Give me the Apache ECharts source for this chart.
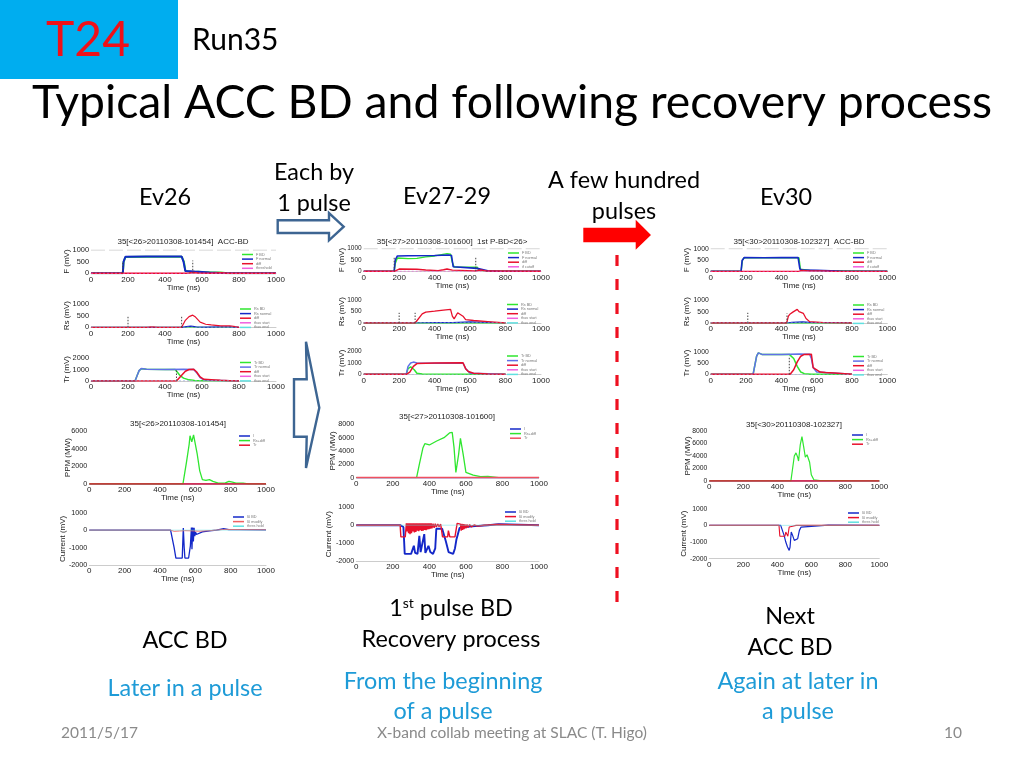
<!DOCTYPE html>
<html>
<head>
<meta charset="utf-8">
<style>html,body{margin:0;padding:0;background:#fff}
#c,#s{position:absolute;left:0;top:0;width:1024px;height:768px}
#c{filter:blur(0.45px)}</style>
<script src="https://cdn.jsdelivr.net/npm/echarts@6/dist/echarts.min.js"></script>
</head>
<body>
<div id="c"></div>
<div id="s"></div>
<script>
// ---------- values: [time ns, value] ----------
const flat1000 = [[0,0],[1000,0]];
const flat800 = [[0,0],[800,0]];
const limit1000 = [[0,1000],[1000,1000]];

// Ev26
const ev26F_bd = [[0,0],[172,0],[176,480],[186,700],[300,712],[490,712],[502,500],[510,110],[540,60],[580,70],[620,50],[660,30],[700,35],[740,0],[1000,0]];
const ev26F_normal = [[0,0],[172,0],[176,500],[186,710],[300,722],[400,718],[490,722],[500,500],[510,95],[560,75],[600,60],[640,30],[700,10],[760,0],[1000,0]];
const ev26F_diff = [[0,0],[172,0],[175,50],[182,0],[500,0],[530,10],[550,30],[580,15],[650,5],[700,20],[740,0],[1000,0]];
const ev26F_m1 = [[172,0],[172,500]];
const ev26F_m2 = [[550,0],[550,550]];
const ev26Rs_normal = [[0,0],[490,0],[515,30],[540,50],[570,15],[620,10],[700,20],[760,15],[800,0]];
const ev26Rs_diff = [[0,0],[300,0],[330,15],[360,0],[490,0],[495,60],[510,300],[530,460],[550,520],[565,440],[590,220],[620,130],[650,100],[700,60],[750,60],[780,30],[800,0]];
const ev26Rs_m1 = [[200,0],[200,450]];
const ev26Rs_m2 = [[490,0],[490,450]];
const ev26Tr_bd = [[0,0],[238,0],[250,500],[260,900],[272,1070],[300,1020],[400,1000],[455,1000],[465,850],[480,500],[500,250],[530,100],[560,50],[600,20],[700,30],[800,0]];
const ev26Tr_normal = [[0,0],[238,0],[250,500],[260,900],[272,1080],[300,1020],[400,1000],[500,1030],[555,1010],[570,750],[590,300],[610,100],[650,60],[800,0]];
const ev26Tr_diff = [[0,0],[462,0],[470,100],[490,500],[510,850],[530,1000],[555,1020],[570,800],[590,350],[610,150],[650,110],[700,60],[750,30],[800,0]];
const ev26Tr_m1 = [[462,0],[462,900]];
const ev26P_i = [[0,0],[1000,0]];
const ev26P_rs = [[0,10],[530,10],[537,150],[550,2500],[565,4500],[570,5500],[580,4800],[590,5600],[600,5800],[610,3500],[625,1500],[640,500],[660,400],[680,500],[700,300],[730,100],[770,120],[790,300],[810,200],[830,100],[870,110],[900,10],[1000,10]];
const ev26P_tr = [[0,0],[1000,0]];
const ev26C_bd = [[0,0],[460,0],[470,-100],[480,-1000],[490,-1600],[526,-1600],[532,120],[537,-1000],[541,-1600],[562,-1600],[572,-900],[578,150],[581,-1100],[585,150],[589,-650],[593,130],[597,-350],[601,-100],[606,-250],[615,-150],[640,-100],[680,-40],[720,0],[760,80],[790,30],[850,30],[1000,20]];
const ev26C_mod = [[0,0],[460,0],[480,-70],[510,-50],[540,-30],[580,-40],[620,-60],[680,-30],[760,40],[1000,20]];

// Ev27
const ev27F_bd = [[0,0],[172,0],[178,350],[190,590],[250,560],[300,570],[350,640],[400,680],[470,780],[490,760],[500,400],[510,190],[600,180],[640,185],[650,50],[700,10],[1000,0]];
const ev27F_normal = [[0,0],[172,0],[178,500],[190,680],[250,690],[400,700],[480,720],[495,700],[505,200],[515,150],[640,130],[650,60],[700,20],[760,0],[1000,0]];
const ev27F_diff = [[0,0],[172,0],[180,80],[200,100],[300,90],[350,60],[420,30],[450,70],[470,100],[500,50],[510,30],[630,20],[660,60],[700,10],[1000,0]];
const ev27F_m1 = [[172,0],[172,600]];
const ev27F_m2 = [[632,0],[632,620]];
const ev27Rs_normal = [[0,0],[290,0],[300,40],[400,20],[500,20],[600,50],[700,30],[800,0]];
const ev27Rs_diff = [[0,0],[290,0],[300,100],[330,400],[350,480],[400,520],[450,570],[490,600],[500,300],[510,180],[530,450],[540,520],[560,300],[575,150],[620,110],[700,60],[800,0]];
const ev27Rs_m1 = [[200,0],[200,450]];
const ev27Rs_m2 = [[290,0],[290,450]];
const ev27Tr_bd = [[0,0],[240,0],[250,500],[265,650],[285,400],[300,100],[330,20],[800,0]];
const ev27Tr_normal = [[0,0],[240,0],[250,700],[265,1000],[280,1080],[300,1000],[400,980],[560,1000],[575,500],[600,100],[800,0]];
const ev27Tr_diff = [[0,0],[240,0],[260,200],[280,700],[300,950],[400,1000],[560,1020],[575,500],[590,250],[620,100],[700,30],[800,0]];
const ev27P_rs = [[0,10],[330,10],[345,2000],[365,4500],[375,5100],[400,4900],[440,5500],[480,6000],[510,6700],[525,6800],[535,4500],[545,800],[560,3500],[570,5900],[585,3500],[600,800],[640,400],[680,150],[720,200],[780,10],[1000,10]];
const ev27C_bd = [[0,0],[240,0],[258,-100],[265,-1600],[300,-1600],[308,-1500],[315,-1150],[322,-1550],[335,-1600],[345,-600],[352,-1500],[362,-1600],[372,-500],[378,-1550],[385,-1600],[395,-1150],[405,-1500],[420,-1600],[432,-1300],[438,-200],[470,-200],[478,-300],[490,-900],[505,-1500],[530,-1600],[540,-1300],[548,-800],[556,-500],[565,-150],[590,-100],[650,-50],[720,0],[780,60],[1000,0]];
const ev27C_mod = [[0,0],[240,0],[244,-650],[268,-650],[274,100],[278,-350],[282,110],[286,-450],[290,100],[294,-500],[298,110],[302,-450],[306,100],[310,-350],[314,110],[318,-400],[322,100],[326,-380],[330,110],[334,-300],[338,100],[342,-340],[346,110],[350,-280],[354,100],[358,-320],[362,110],[366,-300],[370,100],[374,-260],[378,110],[382,-280],[386,100],[390,-240],[394,110],[398,-220],[402,100],[406,-200],[410,100],[414,-180],[420,90],[426,-150],[432,80],[438,-100],[446,70],[452,-70],[462,50],[472,-650],[500,-650],[504,-300],[512,-650],[540,-650],[552,100],[562,130],[570,60],[574,-300],[578,70],[582,-260],[586,60],[590,-220],[594,50],[600,-180],[606,40],[612,-130],[620,30],[630,-90],[645,10],[665,-50],[700,0],[770,40],[1000,0]];

// Ev30
const ev30F_normal = [[0,0],[172,0],[178,480],[190,610],[300,600],[400,605],[495,605],[505,100],[520,50],[600,40],[680,20],[750,0],[1000,0]];
const ev30F_bd = [[0,0],[172,0],[180,500],[190,600],[500,600],[508,90],[560,40],[1000,0]];
const ev30F_diff = [[0,0],[168,0],[176,70],[182,0],[500,0],[512,40],[560,20],[640,20],[700,0],[1000,0]];
const ev30Rs_normal = [[0,0],[430,0],[460,25],[520,50],[560,30],[620,20],[700,15],[800,0]];
const ev30Rs_diff = [[0,0],[430,0],[440,300],[450,400],[465,480],[475,400],[490,600],[500,500],[510,450],[525,420],[540,200],[560,60],[640,20],[800,0]];
const ev30Rs_m1 = [[210,0],[210,450]];
const ev30Rs_m2 = [[432,0],[432,420]];
const ev30Tr_bd = [[0,0],[240,0],[250,400],[260,800],[270,950],[290,880],[400,880],[445,880],[455,870],[470,700],[490,350],[510,100],[530,30],[570,0],[800,0]];
const ev30Tr_normal = [[0,0],[240,0],[250,400],[260,800],[270,950],[290,880],[400,880],[500,900],[560,890],[570,700],[580,300],[600,100],[800,0]];
const ev30Tr_diff = [[0,0],[450,0],[470,200],[490,550],[510,800],[530,880],[570,890],[580,300],[600,200],[620,100],[650,80],[700,60],[800,0]];
const ev30Tr_m1 = [[445,0],[445,800]];
const ev30P_rs = [[0,10],[480,10],[490,2000],[500,4000],[510,4500],[520,3800],[525,3200],[535,5800],[545,7100],[555,5500],[565,3800],[575,4200],[590,3000],[600,1000],[615,200],[650,80],[800,60],[820,10],[1000,10]];
const ev30C_bd = [[0,0],[420,0],[430,-50],[440,-600],[450,-1000],[460,-1300],[470,-1500],[475,-1300],[482,-400],[490,-600],[500,-900],[510,-1000],[520,-800],[530,-300],[540,-100],[550,0],[700,20],[1000,0]];
const ev30C_mod = [[0,0],[410,0],[415,-650],[445,-650],[450,-400],[462,-650],[470,-100],[490,-50],[510,0],[1000,0]];

// tick settings
const xTicks = {min:0, max:1000, interval:200};

// ---------- colours ----------
const GREEN='#2fe62f', BLUE='#1428c8', RED='#e8102c', PINK='#f060e0', CYAN='#60e0e0', MARK='#444444', LBLUE='#6070e8';

const S=(name,data,color,width,dash)=>({name,data,color,width:width||1.5,dash});
const M=(data)=>({name:'',data,color:MARK,width:1,dash:[1.5,1.5],noLegend:true});
const LIM=()=>({name:'',data:limit1000,color:'#cccccc',width:1,dash:[14,4],noLegend:true});

const panels=[
 {x0:91,x1:276,yT:250,yB:273.3,min:0,max:1000,iv:500,gap:20,yfs:7.4,yName:'F (mV)',title:'35[<26>20110308-101454]  ACC-BD',tx:183,ty:242,lx:242,ly:252.5,
  s:[LIM(),S('F BD',ev26F_bd,GREEN,2),S('F normal',ev26F_normal,BLUE,2),S('diff',ev26F_diff,RED,1.5),S('threshold',flat1000,PINK,.8,[2,2]),M(ev26F_m1),M(ev26F_m2)]},
 {x0:91,x1:276,yT:304,yB:327.3,min:0,max:1000,iv:500,gap:20,yfs:7.4,yName:'Rs (mV)',lx:240,ly:307,
  s:[S('Rs BD',flat800,GREEN,1),S('Rs normal',ev26Rs_normal,BLUE,1.2),S('diff',ev26Rs_diff,RED,1.2),S('thav start',flat800,PINK,.6,[2,2]),S('thav end',flat800,CYAN,.6,[2,2]),M(ev26Rs_m1),M(ev26Rs_m2)]},
 {x0:91,x1:276,yT:358,yB:381,min:0,max:2000,iv:1000,gap:20,yfs:7.4,yName:'Tr (mV)',lx:240,ly:360.5,
  s:[S('Tr BD',ev26Tr_bd,GREEN,1.5),S('Tr normal',ev26Tr_normal,LBLUE,1.5),S('diff',ev26Tr_diff,RED,1.5),S('thav start',flat800,PINK,.6,[2,2]),S('thav end',flat800,CYAN,.6,[2,2]),M(ev26Tr_m1)]},
 {x0:89.3,x1:266,yT:431.3,yB:484,min:0,max:6000,iv:2000,gap:18,yfs:7.2,yName:'PPM (MW)',title:'35[<26>20110308-101454]',tx:178,ty:424,lx:239,ly:434,
  s:[S('I',ev26P_i,BLUE,1),S('Rs+diff',ev26P_rs,GREEN,1.3),S('Tr',ev26P_tr,RED,1.6)]},
 {x0:89.3,x1:266,yT:512.7,yB:565,min:-2000,max:1000,iv:1000,gap:23,yfs:7.2,yName:'Current (mV)',lx:233,ly:515,
  s:[S('I0 BD',ev26C_bd,BLUE,1.3),S('I0 modify',ev26C_mod,'#f06060',.9),S('thres hold',flat1000,CYAN,.5)]},

 {x0:363.7,x1:541,yT:248.7,yB:271.3,min:0,max:1000,iv:500,gap:18,yfs:6.5,yName:'F (mV)',title:'35[<27>20110308-101600]  1st P-BD<26>',tx:452,ty:241.5,lx:508,ly:251,
  s:[LIM(),S('F BD',ev27F_bd,GREEN,1.4),S('F normal',ev27F_normal,BLUE,1.6),S('diff',ev27F_diff,RED,1.4),S('if cutoff',flat1000,PINK,.8,[2,2]),M(ev27F_m1),M(ev27F_m2)]},
 {x0:363.7,x1:541,yT:300.3,yB:323,min:0,max:1000,iv:500,gap:18,yfs:6.5,yName:'Rs (mV)',lx:507,ly:302.5,
  s:[S('Rs BD',flat800,GREEN,1.4),S('Rs normal',ev27Rs_normal,BLUE,1.2),S('diff',ev27Rs_diff,RED,1.3),S('thav start',flat800,PINK,.6,[2,2]),S('thav end',flat800,CYAN,.6,[2,2]),M(ev27Rs_m1),M(ev27Rs_m2)]},
 {x0:363.7,x1:541,yT:351.7,yB:374.3,min:0,max:2000,iv:1000,gap:18,yfs:6.5,yName:'Tr (mV)',lx:507,ly:354,
  s:[S('Tr BD',ev27Tr_bd,GREEN,1.5),S('Tr normal',ev27Tr_normal,LBLUE,1.5),S('diff',ev27Tr_diff,RED,1.5),S('thav start',flat800,PINK,.6,[2,2]),S('thav end',flat800,CYAN,.6,[2,2])]},
 {x0:356.3,x1:539,yT:424.3,yB:477.7,min:0,max:8000,iv:2000,gap:19.5,yfs:7.2,yName:'PPM (MW)',title:'35[<27>20110308-101600]',tx:447,ty:416.5,lx:510,ly:427,
  s:[S('I',ev26P_i,BLUE,1.5),S('Rs+diff',ev27P_rs,GREEN,1.3),S('Tr',ev26P_tr,'#f05060',1.8)]},
 {x0:356.3,x1:539,yT:507.3,yB:561,min:-2000,max:1000,iv:1000,gap:24,yfs:7.2,yName:'Current (mV)',lx:505,ly:510,
  s:[S('I0 BD',ev27C_bd,BLUE,1.9),S('I0 modify',ev27C_mod,RED,1.4),S('thres hold',flat1000,CYAN,.5)]},

 {x0:710.7,x1:887.3,yT:248.7,yB:271.3,min:0,max:1000,iv:500,gap:19.5,yfs:6.8,yName:'F (mV)',title:'35[<30>20110308-102327]  ACC-BD',tx:799,ty:241.5,lx:853,ly:251,
  s:[LIM(),S('F BD',ev30F_bd,GREEN,1.4),S('F normal',ev30F_normal,BLUE,1.6),S('diff',ev30F_diff,RED,1.3),S('if cutoff',flat1000,PINK,.8,[2,2])]},
 {x0:710.7,x1:887.3,yT:300.3,yB:323,min:0,max:1000,iv:500,gap:19.5,yfs:6.8,yName:'Rs (mV)',lx:853,ly:303,
  s:[S('Rs BD',flat800,GREEN,1.4),S('Rs normal',ev30Rs_normal,BLUE,1.2),S('diff',ev30Rs_diff,RED,1.3),S('thav start',flat800,PINK,.6,[2,2]),S('thav end',flat800,CYAN,.6,[2,2]),M(ev30Rs_m1),M(ev30Rs_m2)]},
 {x0:710.7,x1:887.3,yT:351.7,yB:374.3,min:0,max:1000,iv:500,gap:19.5,yfs:6.8,yName:'Tr (mV)',lx:853,ly:354.5,
  s:[S('Tr BD',ev30Tr_bd,GREEN,1.5),S('Tr normal',ev30Tr_normal,LBLUE,1.5),S('diff',ev30Tr_diff,RED,1.5),S('thav start',flat800,PINK,.6,[2,2]),S('thav end',flat800,CYAN,.6,[2,2]),M(ev30Tr_m1)]},
 {x0:709.3,x1:879.3,yT:431,yB:481,min:0,max:8000,iv:2000,gap:18,yfs:6.8,yName:'PPM (MW)',title:'35[<30>20110308-102327]',tx:794,ty:424.5,lx:852,ly:433,
  s:[S('I',ev26P_i,BLUE,1.2),S('Rs+diff',ev30P_rs,GREEN,1.2),S('Tr',ev26P_tr,RED,1.5)]},
 {x0:709.3,x1:879.3,yT:508.7,yB:558.7,min:-2000,max:1000,iv:1000,gap:22,yfs:6.8,yName:'Current (mV)',lx:848,ly:511,
  s:[S('I0 BD',ev30C_bd,BLUE,1.2),S('I0 modify',ev30C_mod,RED,1.1),S('thres hold',flat1000,CYAN,.5)]}
];

const AX='#222222', FF='"Liberation Sans",Arial,sans-serif', FS=8;
const plain=v=>String(v);
const option={animation:false,backgroundColor:'#ffffff',grid:[],xAxis:[],yAxis:[],series:[],legend:[],title:[]};
panels.forEach((p,i)=>{
  option.grid.push({left:p.x0,top:p.yT,width:p.x1-p.x0,height:p.yB-p.yT,containLabel:false});
  option.xAxis.push({type:'value',gridIndex:i,min:xTicks.min,max:xTicks.max,interval:xTicks.interval,
    name:'Time (ns)',nameLocation:'middle',nameGap:10,nameMoveOverlap:false,nameTextStyle:{fontSize:FS,color:AX,fontFamily:FF},
    axisLine:{show:true,onZero:false,lineStyle:{color:'#999',width:.5}},axisTick:{show:false},splitLine:{show:false},
    axisLabel:{fontSize:FS,margin:2,color:AX,fontFamily:FF,formatter:plain,hideOverlap:false,showMinLabel:true,showMaxLabel:true}});
  option.yAxis.push({type:'value',gridIndex:i,min:p.min,max:p.max,interval:p.iv,
    name:p.yName,nameLocation:'middle',nameRotate:90,nameGap:p.gap,nameMoveOverlap:false,nameTextStyle:{fontSize:FS,color:AX,fontFamily:FF},
    axisLine:{show:false},axisTick:{show:false},splitLine:{show:false},
    axisLabel:{fontSize:p.yfs,margin:2,color:AX,fontFamily:FF,formatter:plain,showMinLabel:true,showMaxLabel:true}});
  p.s.forEach((s,k)=>{
    option.series.push({type:'line',name:s.name||('ref'+i+'_'+k),xAxisIndex:i,yAxisIndex:i,data:s.data,showSymbol:false,symbol:'none',
      clip:true,silent:true,itemStyle:{color:s.color},lineStyle:{color:s.color,width:s.width,type:s.dash||'solid'},z:s.noLegend?5:2+k});
  });
  option.legend.push({orient:'vertical',left:p.lx,top:p.ly,padding:0,itemWidth:11,itemHeight:1.5,itemGap:.6,selectedMode:false,
    align:'left',textStyle:{fontSize:3.8,color:'#777',padding:[0,0,0,-2],fontFamily:FF},
    data:p.s.filter(s=>!s.noLegend).map(s=>({name:s.name,icon:'rect',itemStyle:{color:s.color}}))});
  if(p.title) option.title.push({text:p.title,left:p.tx,top:p.ty,textAlign:'center',textVerticalAlign:'middle',padding:0,
    textStyle:{fontSize:FS,fontWeight:'normal',color:'#222',fontFamily:FF}});
});

// ---------- slide furniture ----------
const LF='Lato,"Noto Sans",sans-serif';
const BODY=23.4;
const txt=(text,x,y,size,color,align)=>({type:'text',x,y,silent:true,z:50,style:{text,font:size+'px '+LF,fill:color||'#000',textAlign:align||'center',textVerticalAlign:'middle'}});
const CYT='#1e9bd7', GR='#8a8a8a';
const slide={animation:false,backgroundColor:'transparent',graphic:[
 {type:'rect',shape:{x:0,y:0,width:178,height:79},style:{fill:'#00adef'},silent:true,z:40},
 txt('T24',88,41,48,'#f01018'),
 txt('Run35',192,40,30,'#000','left'),
 txt('Typical ACC BD and following recovery process',512,103,46.3,'#000'),
 txt('Ev26',165,197,BODY), txt('Each by',314,172,BODY), txt('1 pulse',314,203,BODY),
 txt('Ev27-29',447,196,BODY), txt('A few hundred',624,180,BODY), txt('pulses',624,211,BODY), txt('Ev30',786,197,BODY),
 {type:'polygon',silent:true,z:45,shape:{points:[[277.7,220.3],[329,220.3],[329,213],[343.7,226.7],[329,240.3],[329,233],[277.7,233]]},style:{fill:'#ffffff',stroke:'#3d6592',lineWidth:2.4}},
 {type:'polygon',silent:true,z:45,shape:{points:[[306,341.7],[306.7,379.3],[294,379.3],[294,436.7],[306.7,436.7],[306,468],[319.3,407.7]]},style:{fill:'#ffffff',stroke:'#3d6592',lineWidth:2.4}},
 {type:'polygon',silent:true,z:45,shape:{points:[[583.3,227.7],[635.7,227.7],[635.7,219.7],[651,235],[635.7,249.7],[635.7,242.3],[583.3,242.3]]},style:{fill:'#ff0000'}},
 {type:'line',silent:true,z:45,shape:{x1:617,y1:255,x2:617,y2:608},style:{stroke:'#ee1020',lineWidth:3.2,lineDash:[11,13]}},
 {type:'text',x:451,y:608,silent:true,z:50,style:{rich:{a:{font:BODY+'px '+LF,fill:'#000'},b:{font:'14px '+LF,fill:'#000',verticalAlign:'top',padding:[0,0,8,0]}},text:'{a|1}{b|st}{a| pulse BD}',textAlign:'center',textVerticalAlign:'middle'}},
 txt('Recovery process',451,639,BODY),
 txt('ACC BD',185,640,BODY), txt('Next',790,616,BODY), txt('ACC BD',790,647,BODY),
 txt('Later in a pulse',185,688,BODY,CYT), txt('From the beginning',443,681,BODY,CYT), txt('of a pulse',443,711,BODY,CYT),
 txt('Again at later in',798,681,BODY,CYT), txt('a pulse',798,711,BODY,CYT),
 txt('2011/5/17',61,733,15.5,GR,'left'), txt('X-band collab meeting at SLAC (T. Higo)',512,733,15.5,GR), txt('10',953,733,15.5,GR)
]};
echarts.init(document.getElementById('c'),null,{renderer:'canvas',width:1024,height:768}).setOption(option);
echarts.init(document.getElementById('s'),null,{renderer:'canvas',width:1024,height:768}).setOption(slide);
</script>
</body>
</html>
